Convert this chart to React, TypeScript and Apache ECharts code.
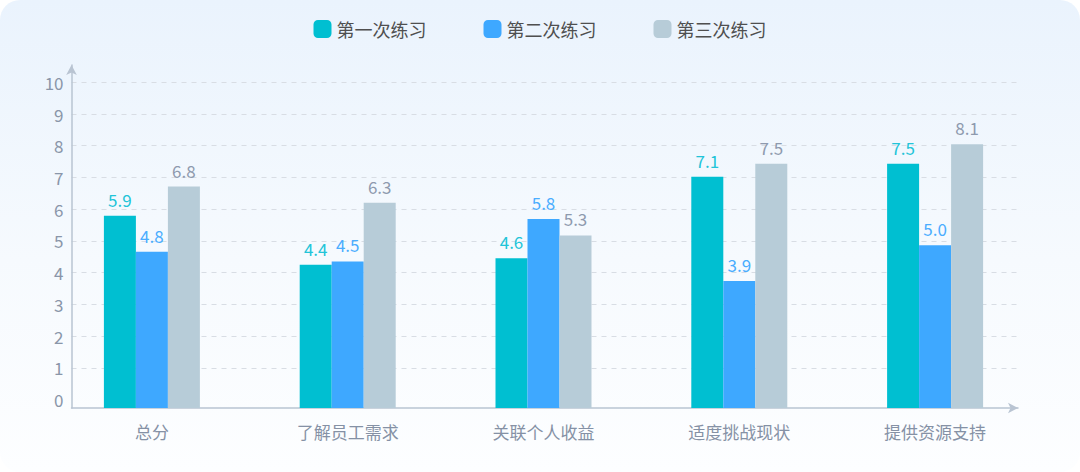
import React, { useEffect, useRef } from "react";
import * as echarts from "echarts";

// Practice rounds compared across five dimensions
const categories = ["总分", "了解员工需求", "关联个人收益", "适度挑战现状", "提供资源支持"];
const seriesNames = ["第一次练习", "第二次练习", "第三次练习"];
const round1 = [5.9, 4.4, 4.6, 7.1, 7.5];
const round2 = [4.8, 4.5, 5.8, 3.9, 5.0];
const round3 = [6.8, 6.3, 5.3, 7.5, 8.1];
const yTicks = { min: 0, max: 10, interval: 1 };

const barColors = ["#00BFD1", "#3EA8FF", "#B7CCD8"];
const labelColors = ["#22C4D8", "#4AADFF", "#8E9AAE"];
const FONT = "'Noto Sans CJK SC', 'Noto Sans', sans-serif";

export default function App() {
  const ref = useRef<HTMLDivElement>(null);

  useEffect(() => {
    document.body.style.margin = "0";
    if (!ref.current) return;
    const chart = echarts.init(ref.current, null, { renderer: "svg" });

    const axisColor = "#B9C4D2";
    const plotTop = 82.3;
    const guideBottom = 472 - 399.5;
    const axisBottom = 472 - 408;

    const makeBar = (name: string, data: number[], i: number) => ({
      name,
      type: "bar",
      xAxisIndex: 2,
      yAxisIndex: 2,
      data,
      barWidth: 32,
      barGap: "0%",
      itemStyle: { color: barColors[i] },
      label: {
        show: true,
        position: "top",
        distance: 8,
        color: labelColors[i],
        fontSize: 17,
        fontFamily: FONT,
        formatter: (p: any) => Number(p.value).toFixed(1),
      },
    });

    chart.setOption({
      animation: false,
      backgroundColor: "transparent",
      textStyle: { fontFamily: FONT },
      legend: {
        top: 15,
        left: "center",
        itemWidth: 18,
        itemHeight: 18,
        itemGap: 57,
        icon: "roundRect",
        textStyle: { fontSize: 18, color: "#4F4F4F", fontFamily: FONT },
        data: seriesNames,
      },
      grid: [
        // axis lines with arrows
        { left: 71.5, right: 1080 - 1018, top: 65, bottom: axisBottom, containLabel: false },
        // value labels and dashed guides
        { left: 71.5, right: 1080 - 1018, top: plotTop, bottom: guideBottom, containLabel: false },
        // bars and category labels, resting on the x axis line
        { left: 54, right: 47, top: plotTop, bottom: axisBottom, containLabel: false },
      ],
      xAxis: [
        {
          gridIndex: 0,
          type: "value",
          min: 0,
          max: 1,
          axisLine: {
            show: true,
            onZero: false,
            symbol: ["none", "arrow"],
            symbolSize: [8, 10],
            lineStyle: { color: axisColor, width: 1.5 },
          },
          axisTick: { show: false },
          axisLabel: { show: false },
          splitLine: { show: false },
        },
        { gridIndex: 1, type: "value", min: 0, max: 1, show: false },
        {
          gridIndex: 2,
          type: "category",
          data: categories,
          axisLine: { show: false },
          axisTick: { show: false },
          axisLabel: { color: "#8591A5", fontSize: 17, margin: 15, fontFamily: FONT },
        },
      ],
      yAxis: [
        {
          gridIndex: 0,
          type: "value",
          min: 0,
          max: 1,
          axisLine: {
            show: true,
            onZero: false,
            symbol: ["none", "arrow"],
            symbolSize: [8, 10],
            lineStyle: { color: axisColor, width: 1.5 },
          },
          axisTick: { show: false },
          axisLabel: { show: false },
          splitLine: { show: false },
        },
        {
          gridIndex: 1,
          type: "value",
          min: yTicks.min,
          max: yTicks.max,
          interval: yTicks.interval,
          axisLine: { show: false },
          axisTick: { show: false },
          axisLabel: { color: "#8A96A9", fontSize: 17, margin: 8, fontFamily: FONT },
          splitLine: {
            show: true,
            showMinLine: false,
            lineStyle: { color: "#D8DDE4", type: [5, 5], width: 1 },
          },
        },
        {
          gridIndex: 2,
          type: "value",
          min: yTicks.min,
          max: yTicks.max,
          show: false,
          splitLine: { show: false },
        },
      ],
      series: [
        makeBar(seriesNames[0], round1, 0),
        makeBar(seriesNames[1], round2, 1),
        makeBar(seriesNames[2], round3, 2),
      ],
    });

    return () => chart.dispose();
  }, []);

  return (
    <div
      style={{
        position: "fixed",
        left: 0,
        top: 0,
        width: 1080,
        height: 472,
        borderRadius: 20,
        background: "linear-gradient(180deg, #EAF3FD 0%, #F6FAFE 55%, #FDFEFF 100%)",
      }}
    >
      <div ref={ref} style={{ width: 1080, height: 472 }} />
    </div>
  );
}
